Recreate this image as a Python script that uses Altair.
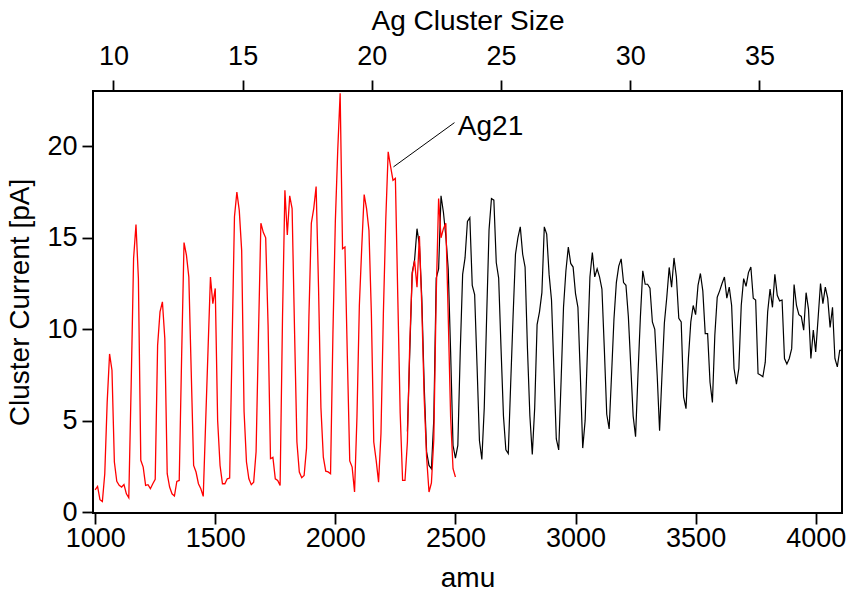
import altair as alt
import pandas as pd

# ---- data ----
red_amu = list(range(1000, 2510, 10))
red_current = [
    1.22, 1.41, 0.68, 0.58, 2.1, 6.0, 8.65, 7.76, 2.74, 1.68,
    1.46, 1.37, 1.51, 1.0, 0.78, 7.0, 13.87, 15.73, 12.77, 2.83,
    2.46, 1.46, 1.5, 1.28, 1.55, 1.79, 9.12, 10.95, 11.5, 9.49,
    2.1, 1.37, 1.0, 0.88, 1.68, 1.73, 8.5, 14.74, 14.05, 12.86,
    7.66, 2.55, 2.19, 1.55, 1.28, 0.86, 4.9, 8.9, 12.86, 11.4,
    12.23, 5.0, 2.55, 1.55, 1.55, 1.82, 1.86, 9.1, 16.15, 17.5,
    16.5, 14.3, 5.5, 2.74, 1.82, 1.5, 1.64, 3.3, 9.7, 15.8,
    15.3, 15.0, 10.2, 2.92, 3.0, 1.82, 1.73, 1.46, 10.6, 17.6,
    15.15, 17.3, 16.6, 10.0, 3.83, 2.19, 1.88, 2.0, 3.5, 10.7,
    15.8, 16.6, 17.8, 12.3, 5.7, 3.0, 2.24, 2.2, 2.1, 9.8,
    15.9, 19.8, 22.9, 14.4, 14.5, 8.5, 2.8, 2.46, 1.1, 5.2,
    11.3, 14.5, 17.37, 16.6, 15.4, 10.86, 3.83, 2.83, 1.64, 4.3,
    10.86, 16.0, 19.7, 18.9, 18.15, 18.25, 11.77, 5.4, 1.73, 1.73,
    3.83, 9.3, 13.0, 13.75, 12.3, 15.1, 11.2, 6.2, 3.0, 1.1,
    1.6, 4.0, 11.9, 17.15, 15.0, 15.5, 15.8, 10.7, 5.2, 2.37,
    1.92,
]

black_amu = list(range(2300, 4120, 10))
black_current = [
    4.4, 8.8, 13.1, 13.8, 15.5, 14.6, 11.7, 6.9, 3.3, 2.55,
    2.37, 5.1, 12.8, 13.3, 17.3, 16.4, 15.1, 13.3, 8.76, 3.65,
    2.95, 3.65, 8.76, 13.0, 13.9, 15.9, 16.1, 12.4, 11.9, 8.0,
    3.9, 2.88, 5.7, 10.7, 15.45, 17.15, 17.06, 13.65, 12.8, 8.9,
    5.25, 3.4, 3.2, 7.0, 10.7, 14.1, 15.0, 15.6, 14.1, 13.4,
    8.9, 5.25, 3.15, 5.7, 10.25, 10.95, 12.0, 15.6, 15.2, 13.0,
    11.6, 7.85, 4.0, 3.4, 7.2, 11.2, 13.2, 14.5, 13.6, 13.4,
    11.95, 11.2, 7.5, 3.5, 5.0, 9.0, 12.86, 14.2, 12.86, 13.3,
    12.86, 12.2, 8.9, 5.35, 4.55, 7.5, 10.55, 12.55, 13.45, 13.85,
    12.55, 12.4, 10.7, 8.0, 5.25, 4.12, 7.5, 10.65, 13.2, 12.46,
    12.46, 12.25, 10.4, 10.0, 7.5, 4.45, 7.5, 10.35, 11.75, 13.38,
    12.3, 13.9, 12.86, 10.6, 10.4, 6.3, 5.66, 8.4, 10.4, 11.3,
    10.8, 12.4, 13.05, 12.1, 9.76, 9.76, 7.1, 6.0, 9.67, 11.75,
    12.1, 12.5, 12.86, 11.7, 12.3, 11.3, 7.85, 7.0, 7.85, 11.3,
    12.77, 12.35, 13.1, 13.4, 11.7, 11.6, 7.57, 7.5, 7.4, 8.2,
    10.95, 12.2, 11.2, 13.0, 11.86, 11.55, 11.6, 8.4, 8.1, 8.4,
    8.94, 12.45, 11.3, 10.8, 10.7, 9.95, 12.0, 11.1, 8.4, 9.95,
    8.76, 10.6, 12.5, 11.4, 12.3, 11.7, 10.1, 11.2, 8.4, 7.94,
    8.85, 8.85,
]

amu_ticks = [1000, 1500, 2000, 2500, 3000, 3500, 4000]
current_ticks = [0, 5, 10, 15, 20]
size_ticks = [10, 15, 20, 25, 30, 35]

amu_domain = [991, 4109.5]
current_domain = [-0.05, 23.03]
ag_mass = 107.6  # amu per Ag atom used for the top axis
size_domain = [amu_domain[0] / ag_mass, amu_domain[1] / ag_mass]

label_text = ["Ag21"]
label_amu = [2510]
label_current = [20.6]
leader = {"amu": [2242], "current": [18.88], "amu2": [2496], "current2": [21.3]}

FONT = "Liberation Sans"
FS = 27

red_df = pd.DataFrame({"amu": red_amu, "current": red_current})
black_df = pd.DataFrame({"amu": black_amu, "current": black_current})
size_df = pd.DataFrame({"size": size_ticks})
label_df = pd.DataFrame({"amu": label_amu, "current": label_current, "text": label_text})
leader_df = pd.DataFrame(leader)

xscale = alt.Scale(domain=amu_domain, nice=False, zero=False)
yscale = alt.Scale(domain=current_domain, nice=False, zero=False)

common_axis = dict(
    domain=False, ticks=True, tickColor="black", tickWidth=1.8, tickSize=11,
    labelFont=FONT, labelFontSize=FS, labelColor="black", grid=False, format="d",
    titleFont=FONT, titleFontSize=28, titleFontWeight="normal", titleColor="black",
)

X_AMU = alt.X("amu:Q", scale=xscale,
              axis=alt.Axis(orient="bottom", values=amu_ticks, title="amu",
                            labelPadding=1, titlePadding=13, **common_axis))
Y_CUR = alt.Y("current:Q", scale=yscale,
              axis=alt.Axis(orient="left", values=current_ticks, title="Cluster Current [pA]",
                            labelPadding=5, titlePadding=12, **common_axis))

black_line = alt.Chart(black_df).mark_line(color="black", strokeWidth=1.2, clip=True).encode(
    x=X_AMU, y=Y_CUR)

red_line = alt.Chart(red_df).mark_line(color="#ff0000", strokeWidth=1.3, clip=True).encode(
    x=X_AMU, y=Y_CUR)

leader_rule = alt.Chart(leader_df).mark_rule(color="black", strokeWidth=1).encode(
    x=X_AMU, y=Y_CUR, x2="amu2:Q", y2="current2:Q")

label = alt.Chart(label_df).mark_text(
    align="left", baseline="alphabetic", font=FONT, fontSize=28, color="black"
).encode(x=X_AMU, y=Y_CUR, text="text:N")

base = alt.layer(black_line, red_line, leader_rule, label)

top = alt.Chart(size_df).mark_point(opacity=0).encode(
    x=alt.X("size:Q", scale=alt.Scale(domain=size_domain, nice=False, zero=False),
            axis=alt.Axis(orient="top", values=size_ticks, title="Ag Cluster Size",
                          labelPadding=10, titlePadding=7, **common_axis)),
    y=alt.value(0),
)

chart = alt.layer(base, top).resolve_scale(x="independent").properties(
    width=749, height=422,
    autosize=alt.AutoSizeParams(type="none"),
    padding={"left": 93, "top": 91, "right": 9, "bottom": 84},
    background="white",
).configure_view(stroke="black", strokeWidth=2)

chart.save("out.html", embed_options={"renderer": "svg", "actions": False})
